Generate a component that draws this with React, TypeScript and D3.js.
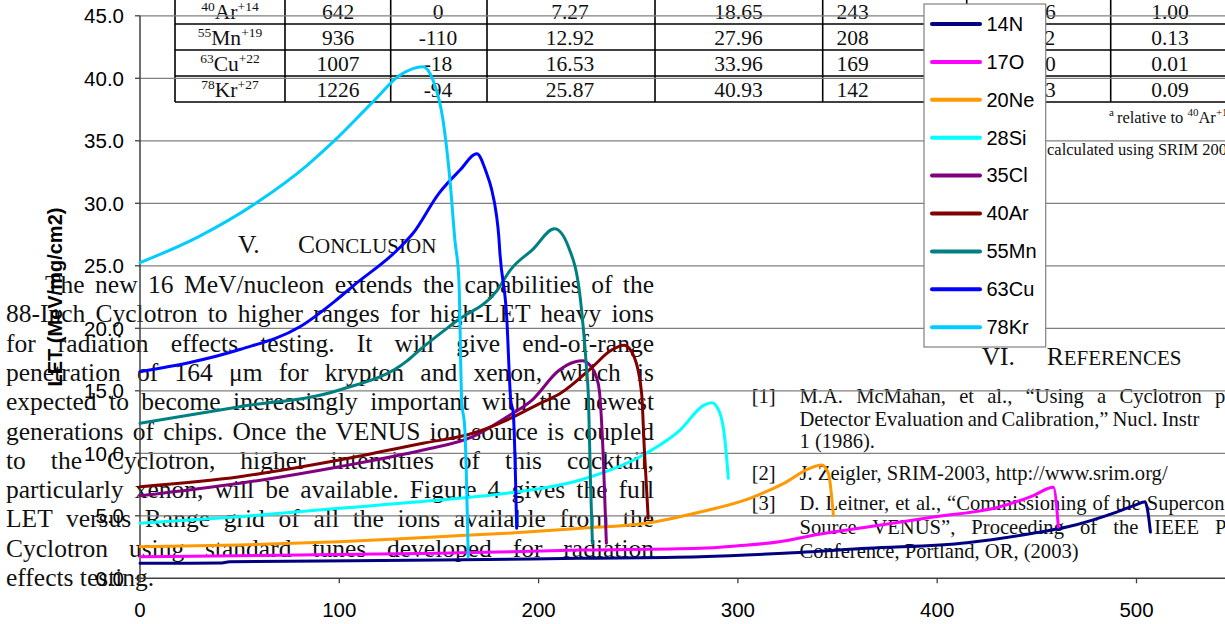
import React, { useLayoutEffect, useRef, useState } from 'react';
import * as d3 from 'd3';

const WIDTH = 1225;
const HEIGHT = 624;
const SERIF = "'Liberation Serif', 'Times New Roman', serif";
const SANS = "'Liberation Sans', Arial, sans-serif";

// LET (MeV/mg/cm2) against range in silicon (µm) for each ion of the 16 MeV/nucleon cocktail
const N14_RANGE = [0, 40, 45, 150, 220, 281, 323, 365, 415, 448, 465, 490, 500, 504.3, 505.5, 507];
const N14_LET = [1.2, 1.22, 1.32, 1.46, 1.6, 1.73, 2.0, 2.4, 2.85, 3.6, 4.1, 5.3, 5.9, 6.13, 5.5, 3.7];

const O17_RANGE = [0, 80, 150, 221, 281, 300, 320, 340, 365, 398, 431, 448, 458.3, 460.8];
const O17_LET = [1.73, 1.86, 2.0, 2.26, 2.4, 2.6, 2.9, 3.5, 4.1, 4.9, 5.7, 6.6, 7.28, 4.1];

const NE20_RANGE = [0, 50, 100, 150, 184, 221, 254, 281, 306, 323, 336, 342, 345.4, 347.9];
const NE20_LET = [2.53, 2.66, 2.93, 3.33, 3.6, 4.0, 4.4, 5.3, 6.4, 7.6, 8.8, 9.06, 8.4, 5.06];

const SI28_RANGE = [0, 50, 100, 150, 184, 221, 254, 271, 283, 287, 291, 293.5, 295.2];
const SI28_LET = [4.4, 4.93, 5.6, 6.26, 6.8, 7.86, 10.0, 11.86, 13.86, 14.05, 13.2, 11.06, 8.0];

const CL35_RANGE = [0, 50, 100, 142, 167, 184, 197, 210, 218, 222, 226, 229, 230.5, 232.5, 234];
const CL35_LET = [6.6, 7.6, 8.93, 10.26, 11.33, 12.9, 14.3, 16.6, 17.3, 17.4, 17.0, 16.1, 15.0, 9.5, 2.8];

const AR40_RANGE = [0, 50, 100, 142, 167, 184, 200.7, 211, 227, 236, 243, 248, 251.7, 253, 255];
const AR40_LET = [7.33, 8.13, 9.46, 10.8, 11.6, 12.66, 14.0, 14.8, 16.9, 18.2, 18.65, 17.7, 14.8, 10.5, 4.8];

const MN55_RANGE = [0, 50, 100, 134, 140.5, 159, 179, 186, 197, 208, 215, 221, 224, 225, 226, 227];
const MN55_LET = [12.4, 13.73, 15.06, 17.4, 18.3, 20.6, 23.0, 24.7, 26.3, 27.96, 26.5, 22.3, 16.9, 14.5, 7.9, 2.8];

const CU63_RANGE = [0, 50, 80, 98, 107, 130, 137, 150, 160.6, 169, 173.9, 176.3, 178.9, 180, 180.6, 184, 186, 187.3, 189];
const CU63_LET = [16.53, 18.3, 20.1, 22.2, 23.4, 26.4, 27.6, 30.8, 32.66, 33.96, 32.4, 31.2, 29.0, 27.4, 26.0, 20.9, 14.3, 13.2, 4.0];

const KR78_RANGE = [0, 29, 59, 84, 97, 117, 130.5, 142, 147, 152, 155.5, 158, 160, 161.4, 163, 164.7];
const KR78_LET = [25.25, 27.3, 30.1, 33.06, 34.93, 38.13, 40.26, 40.93, 39.86, 36.7, 31.9, 27.06, 23.9, 14.3, 11.9, 1.7];

const ION_NAMES = ['14N', '17O', '20Ne', '28Si', '35Cl', '40Ar', '55Mn', '63Cu', '78Kr'];
const ION_COLORS = ['#000080', '#FF00FF', '#FF9900', '#00FFFF', '#800080', '#800000', '#008080', '#0000FF', '#00CCFF'];
const ION_RANGES = [N14_RANGE, O17_RANGE, NE20_RANGE, SI28_RANGE, CL35_RANGE, AR40_RANGE, MN55_RANGE, CU63_RANGE, KR78_RANGE];
const ION_LETS = [N14_LET, O17_LET, NE20_LET, SI28_LET, CL35_LET, AR40_LET, MN55_LET, CU63_LET, KR78_LET];

const X_TICKS = [0, 100, 200, 300, 400, 500];
const Y_TICKS = [0, 5, 10, 15, 20, 25, 30, 35, 40, 45];

// Cocktail table rows shown behind the plot
const TABLE_MASS = ['40', '55', '63', '78'];
const TABLE_SYMBOL = ['Ar', 'Mn', 'Cu', 'Kr'];
const TABLE_CHARGE = ['+14', '+19', '+22', '+27'];
const TABLE_ENERGY = ['642', '936', '1007', '1226'];
const TABLE_OFFSET = ['0', '-110', '-18', '-94'];
const TABLE_SURFACE_LET = ['7.27', '12.92', '16.53', '25.87'];
const TABLE_PEAK_LET = ['18.65', '27.96', '33.96', '40.93'];
const TABLE_PEAK_RANGE = ['243', '208', '169', '142'];
const TABLE_COL7 = ['146', '112', '100', '103'];
const TABLE_RELATIVE = ['1.00', '0.13', '0.01', '0.09'];

const CONCLUSION_LINES = [
  'The new 16 MeV/nucleon extends the capabilities of the',
  '88-Inch Cyclotron to higher ranges for high-LET heavy ions',
  'for radiation effects testing. It will give end-of-range',
  'penetration of 164 \u03bcm for krypton and xenon, which is',
  'expected to become increasingly important with the newest',
  'generations of chips. Once the VENUS ion source is coupled',
  'to the Cyclotron, higher intensities of this cocktail,',
  'particularly xenon, will be available. Figure 4 gives the full',
  'LET versus Range grid of all the ions available from the',
  'Cyclotron using standard tunes developed for radiation',
  'effects testing.',
];

const REFERENCE_LINES = [
  'M.A. McMahan, et al., \u201cUsing a Cyclotron plus',
  'Detector Evaluation and Calibration,\u201d Nucl. Instr',
  '1 (1986).',
  'J. Zeigler, SRIM-2003, http://www.srim.org/',
  'D. Leitner, et al., \u201cCommissioning of the Superconducting',
  'Source VENUS\u201d, Proceeding of the IEEE Particle',
  'Conference, Portland, OR, (2003)',
];

type JustifyProps = {
  x: number;
  y: number;
  text: string;
  size: number;
  to?: number;
  mode?: 'end' | 'last';
};

// A line of running text spread by word spacing, either to a right margin ('end')
// or so that its final word begins at a given position ('last').
function JustifiedLine({ x, y, text, size, to, mode = 'end' }: JustifyProps) {
  const ref = useRef<SVGTextElement>(null);
  const [spacing, setSpacing] = useState(0);
  useLayoutEffect(() => {
    const el = ref.current;
    if (!el || to == null) return;
    const spaces = text.split(' ').length - 1;
    if (!spaces) return;
    let natural: number;
    if (mode === 'last') {
      const idx = text.lastIndexOf(' ') + 1;
      natural = el.getSubStringLength(0, idx);
    } else {
      natural = el.getComputedTextLength();
    }
    setSpacing((to - x - natural) / spaces);
  }, [x, text, to, mode]);
  return (
    <text ref={ref} x={x} y={y} fontSize={size} fontFamily={SERIF} fill="#111" style={{ wordSpacing: `${spacing}px` }}>
      {text}
    </text>
  );
}

export default function App() {
  const x = d3.scaleLinear().domain([0, 600]).range([140, 140 + 6 * 199.3]);
  const y = d3.scaleLinear().domain([0, 45]).range([578.3, 15.8]);

  const line = d3
    .line<[number, number]>()
    .x((d) => x(d[0]))
    .y((d) => y(d[1]))
    .curve(d3.curveMonotoneX);

  const series = ION_NAMES.map((name, i) => ({
    name,
    color: ION_COLORS[i],
    points: ION_RANGES[i].map((r, j) => [r, ION_LETS[i][j]] as [number, number]),
  }));

  // table geometry
  const colLines = [175, 285, 390.7, 487, 655, 822.7, 966.7, 1110.7];
  const rowLines = [24, 50, 76, 102];
  const rowBase = [18.5, 44.5, 70.5, 96.5];
  const colCenters = [230, 338, 438, 570, 738.5, 852.5, 1039.5, 1170];

  const paraTop = 293;
  const paraStep = 29.3;
  const refBase = [403, 425.5, 448.3, 480, 510, 534, 558.3];

  const legendX = 924;
  const legendY = 4;
  const legendW = 121.7;
  const legendH = 343;
  const legendStep = 37.9;

  return (
    <svg
      width={WIDTH}
      height={HEIGHT}
      viewBox={`0 0 ${WIDTH} ${HEIGHT}`}
      style={{ position: 'absolute', left: 0, top: 0, display: 'block', background: '#fff' }}
    >
      <rect x={0} y={0} width={WIDTH} height={HEIGHT} fill="#fff" />

      {/* Table of the cocktail ions */}
      <g>
        {colLines.map((cx) => (
          <line key={`c${cx}`} x1={cx} x2={cx} y1={0} y2={102} stroke="#000" strokeWidth={1.6} />
        ))}
        {rowLines.map((ry) => (
          <line key={`r${ry}`} x1={175} x2={WIDTH} y1={ry} y2={ry} stroke="#000" strokeWidth={1.6} />
        ))}
        {TABLE_MASS.map((m, i) => (
          <g key={m} fontFamily={SERIF} fontSize={21.5} fill="#111" textAnchor="middle">
            <text x={colCenters[0]} y={rowBase[i]}>
              <tspan fontSize={13.5} dy={-8}>{m}</tspan>
              <tspan dy={8}>{TABLE_SYMBOL[i]}</tspan>
              <tspan fontSize={13.5} dy={-8}>{TABLE_CHARGE[i]}</tspan>
            </text>
            <text x={colCenters[1]} y={rowBase[i]}>{TABLE_ENERGY[i]}</text>
            <text x={colCenters[2]} y={rowBase[i]}>{TABLE_OFFSET[i]}</text>
            <text x={colCenters[3]} y={rowBase[i]}>{TABLE_SURFACE_LET[i]}</text>
            <text x={colCenters[4]} y={rowBase[i]}>{TABLE_PEAK_LET[i]}</text>
            <text x={colCenters[5]} y={rowBase[i]}>{TABLE_PEAK_RANGE[i]}</text>
            <text x={colCenters[6]} y={rowBase[i]}>{TABLE_COL7[i]}</text>
            <text x={colCenters[7]} y={rowBase[i]}>{TABLE_RELATIVE[i]}</text>
          </g>
        ))}
        <text x={1109} y={123} fontFamily={SERIF} fontSize={16.5} fill="#111">
          <tspan fontSize={11} dy={-7}>a</tspan>
          <tspan dy={7} dx={3}>relative to </tspan>
          <tspan fontSize={11} dy={-7}>40</tspan>
          <tspan dy={7}>Ar</tspan>
          <tspan fontSize={11} dy={-7}>+14</tspan>
        </text>
        <text x={1047} y={155} fontFamily={SERIF} fontSize={16.5} fill="#111">
          calculated using SRIM 2003
        </text>
      </g>

      {/* Conclusion section */}
      <g fill="#111" fontFamily={SERIF}>
        <text x={238} y={253} fontSize={25.5}>V.</text>
        <text x={298} y={253}>
          <tspan fontSize={25.5}>C</tspan>
          <tspan fontSize={21}>ONCLUSION</tspan>
        </text>
        {CONCLUSION_LINES.map((t, i) => (
          <JustifiedLine
            key={t}
            x={i === 0 ? 45 : 6}
            y={paraTop + i * paraStep}
            text={t}
            size={25.5}
            to={i === CONCLUSION_LINES.length - 1 ? undefined : 654}
          />
        ))}
      </g>

      {/* References section */}
      <g fill="#111" fontFamily={SERIF}>
        <text x={981.7} y={365} fontSize={25.5}>VI.</text>
        <text x={1046.7} y={365}>
          <tspan fontSize={25.5}>R</tspan>
          <tspan fontSize={21}>EFERENCES</tspan>
        </text>
        <text x={751.7} y={refBase[0]} fontSize={20.6}>[1]</text>
        <text x={751.7} y={refBase[3]} fontSize={20.6}>[2]</text>
        <text x={751.7} y={refBase[4]} fontSize={20.6}>[3]</text>
        <JustifiedLine x={799.5} y={refBase[0]} text={REFERENCE_LINES[0]} size={20.6} to={1215} mode="last" />
        <JustifiedLine x={799.5} y={refBase[1]} text={REFERENCE_LINES[1]} size={20.6} to={1161.7} mode="last" />
        <JustifiedLine x={799.5} y={refBase[2]} text={REFERENCE_LINES[2]} size={20.6} />
        <JustifiedLine x={799.5} y={refBase[3]} text={REFERENCE_LINES[3]} size={20.6} />
        <JustifiedLine x={799.5} y={refBase[4]} text={REFERENCE_LINES[4]} size={20.6} to={1146.7} mode="last" />
        <JustifiedLine x={799.5} y={refBase[5]} text={REFERENCE_LINES[5]} size={20.6} to={1215} mode="last" />
        <JustifiedLine x={799.5} y={refBase[6]} text={REFERENCE_LINES[6]} size={20.6} />
      </g>

      {/* Chart: gridlines, axes and ticks */}
      <g>
        {Y_TICKS.filter((t) => t > 0).map((t) => (
          <line key={`g${t}`} x1={x(0)} x2={WIDTH} y1={y(t)} y2={y(t)} stroke="#808080" strokeWidth={1.2} />
        ))}
        <line x1={x(0)} x2={x(0)} y1={y(45)} y2={y(0)} stroke="#404040" strokeWidth={1.5} />
        <line x1={x(0)} x2={WIDTH} y1={y(0)} y2={y(0)} stroke="#404040" strokeWidth={1.5} />
        {Y_TICKS.map((t) => (
          <g key={`yt${t}`}>
            <line x1={x(0) - 5} x2={x(0)} y1={y(t)} y2={y(t)} stroke="#404040" strokeWidth={1.3} />
            <text x={124} y={y(t)} dy="0.36em" textAnchor="end" fontFamily={SANS} fontSize={20.5} fill="#000">
              {t.toFixed(1)}
            </text>
          </g>
        ))}
        {X_TICKS.map((t) => (
          <g key={`xt${t}`}>
            <line x1={x(t)} x2={x(t)} y1={y(0)} y2={y(0) + 5} stroke="#404040" strokeWidth={1.3} />
            <text x={x(t)} y={616.5} textAnchor="middle" fontFamily={SANS} fontSize={20.5} fill="#000">
              {t}
            </text>
          </g>
        ))}
        <text
          transform={`translate(61.5, ${(y(0) + y(45)) / 2}) rotate(-90)`}
          textAnchor="middle"
          fontFamily={SANS}
          fontWeight="bold"
          fontSize={20}
          fill="#000"
        >
          LET (MeV/mg/cm2)
        </text>
      </g>

      {/* Chart: ion curves */}
      <g fill="none" strokeWidth={3} strokeLinejoin="round" strokeLinecap="round">
        {series.map((s) => (
          <path key={s.name} d={line(s.points) || ''} stroke={s.color} />
        ))}
      </g>

      {/* Legend */}
      <g>
        <rect x={legendX} y={legendY} width={legendW} height={legendH} fill="#fff" stroke="#808080" strokeWidth={1.2} />
        {series.map((s, i) => {
          const ly = 24 + i * legendStep;
          return (
            <g key={`lg${s.name}`}>
              <line x1={932} x2={980} y1={ly} y2={ly} stroke={s.color} strokeWidth={4} strokeLinecap="round" />
              <text x={986.5} y={ly + 6.8} fontFamily={SANS} fontSize={20} fill="#000">
                {s.name}
              </text>
            </g>
          );
        })}
      </g>
    </svg>
  );
}
